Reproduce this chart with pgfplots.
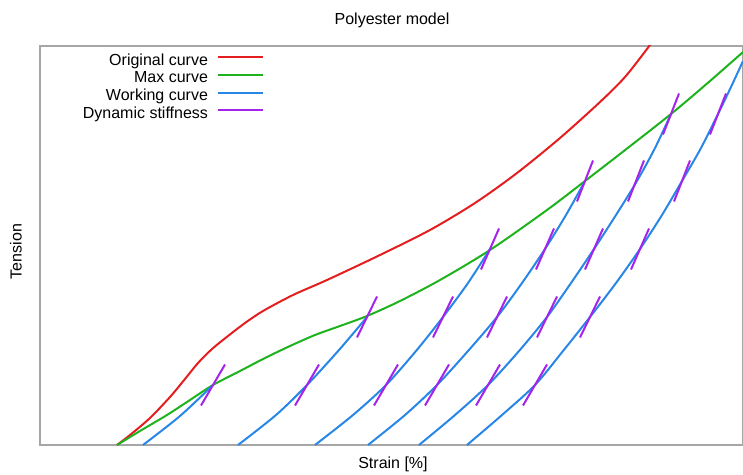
\documentclass[border=0pt]{standalone}
\usepackage{fontspec}
\setmainfont{Liberation Sans}
\usepackage{pgfplots}
\pgfplotsset{compat=1.18}
\definecolor{cRed}{RGB}{228,30,30}
\definecolor{cGreen}{RGB}{30,178,30}
\definecolor{cBlue}{RGB}{40,135,230}
\definecolor{cPurple}{RGB}{165,35,235}
\begin{document}
\begin{tikzpicture}[x=1pt,y=1pt]
\useasboundingbox (0,0) rectangle (743,474);
\begin{axis}[
 at={(40pt,29pt)}, anchor=south west,
 scale only axis, width=703pt, height=399pt,
 xmin=40, xmax=743, ymin=0, ymax=399,
 xtick=\empty, ytick=\empty,
 axis line style={black!35, line width=1.4pt},
 legend style={draw=none, fill=none, at={(axis description cs:0.0607,0.982)}, anchor=north west,
   font=\fontsize{16}{17.6}\selectfont, inner sep=0pt, row sep=1.6pt, column sep=9pt,
   nodes={inner sep=0pt, text height=12pt, text depth=4pt}},
 legend cell align=right,
 legend plot pos=right,
 legend image code/.code={\draw[#1] (0pt,4pt) -- (45pt,4pt);},
 every axis plot/.append style={line width=2pt},
]
\addlegendimage{cRed,line width=2pt}\addlegendentry{Original curve}
\addlegendimage{cGreen,line width=2pt}\addlegendentry{Max curve}
\addlegendimage{cBlue,line width=2pt}\addlegendentry{Working curve}
\addlegendimage{cPurple,line width=2pt}\addlegendentry{Dynamic stiffness}

% Original curve
\addplot[cRed, smooth, forget plot] coordinates {
(117,0) (130,10) (150,27) (170,48) (185,66) (198,82) (212,96) (228,109) (245,122) (263,134) (293,150) (327,165) (380,190) (430,215) (475,242) (517,272) (560,307) (600,343) (625,368) (650,400) (655,407)};
% Max curve
\addplot[cGreen, smooth, forget plot] coordinates {
(117,0) (140,14) (167,30) (190,45) (213,60) (240,74) (265,87) (290,99) (315,110) (340,119) (367,129) (400,144) (440,165) (490,195) (547,235) (585,264) (620,291) (671,331) (710,364) (743,393)};
% Working curves
\addplot[cBlue, smooth, forget plot] coordinates {(143,0) (180,29) (213,60)};
\addplot[cBlue, smooth, forget plot] coordinates {(238,0) (276,30) (307,60) (339,95) (367,128)};
\addplot[cBlue, smooth, forget plot] coordinates {(315,0) (353,30) (386,60) (416,94) (443,128) (468,162) (490,196)};
\addplot[cBlue, smooth, forget plot] coordinates {(368,0) (405,30) (437,60) (468,94) (497,128) (522,162) (545,196) (566,230) (585,264)};
\addplot[cBlue, smooth, forget plot] coordinates {(419,0) (455,30) (488,60) (519,94) (547,128) (571,162) (594,196) (616,230) (637,264) (655,297) (671,331)};
\addplot[cBlue, smooth, forget plot] coordinates {(467,0) (502,30) (535,60) (563,94) (590,128) (616,162) (640,196) (662,230) (682,264) (701,297) (718,331) (731,358) (743,384)};
% Dynamic stiffness (level 1)
\addplot[cPurple, forget plot] coordinates {(201,39.5) (225,80.5)};
\addplot[cPurple, forget plot] coordinates {(295,39.5) (319,80.5)};
\addplot[cPurple, forget plot] coordinates {(374,39.5) (398,80.5)};
\addplot[cPurple, forget plot] coordinates {(425,39.5) (449,80.5)};
\addplot[cPurple, forget plot] coordinates {(476,39.5) (500,80.5)};
\addplot[cPurple, forget plot] coordinates {(523,39.5) (547,80.5)};
% level 2
\addplot[cPurple, forget plot] coordinates {(357,107.5) (377,148.5)};
\addplot[cPurple, forget plot] coordinates {(433,107.5) (453,148.5)};
\addplot[cPurple, forget plot] coordinates {(487,107.5) (507,148.5)};
\addplot[cPurple, forget plot] coordinates {(537,107.5) (557,148.5)};
\addplot[cPurple, forget plot] coordinates {(580,107.5) (600,148.5)};
% level 3
\addplot[cPurple, forget plot] coordinates {(481,175.5) (499,216.5)};
\addplot[cPurple, forget plot] coordinates {(536,175.5) (554,216.5)};
\addplot[cPurple, forget plot] coordinates {(585,175.5) (603,216.5)};
\addplot[cPurple, forget plot] coordinates {(631,175.5) (649,216.5)};
% level 4
\addplot[cPurple, forget plot] coordinates {(577,243.5) (593,284.5)};
\addplot[cPurple, forget plot] coordinates {(628,243.5) (644,284.5)};
\addplot[cPurple, forget plot] coordinates {(674,243.5) (690,284.5)};
% level 5
\addplot[cPurple, forget plot] coordinates {(663,310.5) (679,351.5)};
\addplot[cPurple, forget plot] coordinates {(710,310.5) (726,351.5)};
\end{axis}
\node[font=\fontsize{16}{19}\selectfont, anchor=base] at (392,449) {Polyester model};
\node[font=\fontsize{16}{19}\selectfont, anchor=base] at (393,5.7) {Strain [\%]};
\node[font=\fontsize{16}{19}\selectfont, anchor=base, rotate=90] at (21.7,222.5) {Tension};
\end{tikzpicture}
\end{document}
